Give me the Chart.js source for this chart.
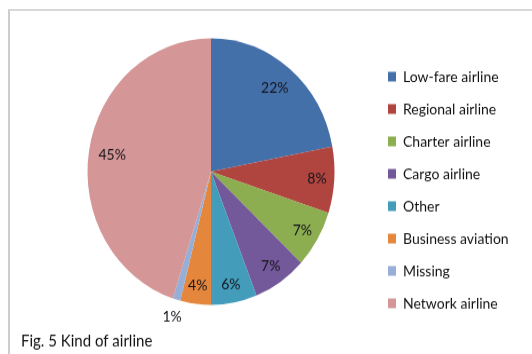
<!DOCTYPE html>
<html>
<head>
<meta charset="utf-8">
<script src="https://cdn.jsdelivr.net/npm/chart.js@4/dist/chart.umd.min.js"></script>
<style>
  html, body { margin: 0; padding: 0; background: #fff; }
  #wrap { position: relative; width: 532px; height: 354px; overflow: hidden; background: #fff; }
  #frame { position: absolute; left: 8px; top: 9px; right: -4px; bottom: -4px;
           border-top: 2px solid #d8d8d8; border-left: 2px solid #cdcdcd; }
  #c { position: absolute; left: 0; top: 0; transform-origin: 0 0; transform: scaleY(1.0793); }
</style>
</head>
<body>
<div id="wrap">
  <div id="frame"></div>
  <canvas id="c" width="532" height="328"></canvas>
</div>
<script>
// Kind of airline, share of respondents (%)
const categories = ['Low-fare airline', 'Regional airline', 'Charter airline', 'Cargo airline',
                    'Other', 'Business aviation', 'Missing', 'Network airline'];
const shares = [22, 8, 7, 7, 6, 4, 1, 45];
const caption = 'Fig. 5 Kind of airline';

const sliceColors = ['#4470AA', '#B0453F', '#8CAD50', '#73589A', '#429CBA', '#E4873C', '#97AED6', '#D49696'];
const FONT = 'Lato, Carlito, "Liberation Sans", sans-serif';

// percentage labels placed along each slice's mid-angle; tiny slices go outside
const sliceLabels = {
  id: 'sliceLabels',
  afterDatasetsDraw(chart) {
    const ctx = chart.ctx;
    const meta = chart.getDatasetMeta(0);
    const data = chart.data.datasets[0].data;
    const total = data.reduce((a, b) => a + b, 0);
    ctx.save();
    ctx.font = '14px ' + FONT;
    ctx.fillStyle = '#15151c';
    ctx.textAlign = 'center';
    ctx.textBaseline = 'middle';
    meta.data.forEach((arc, i) => {
      const p = arc.getProps(['x', 'y', 'startAngle', 'endAngle', 'outerRadius'], true);
      const mid = (p.startAngle + p.endAngle) / 2;
      const share = data[i] / total;
      const rf = share < 0.02 ? 1.13 : (share > 0.15 ? 0.81 : 0.86);
      const x = p.x + Math.cos(mid) * p.outerRadius * rf;
      const y = p.y + Math.sin(mid) * p.outerRadius * rf;
      ctx.fillText(data[i] + '%', x, y);
    });
    ctx.restore();
  }
};

// figure caption in the lower left corner
const figCaption = {
  id: 'figCaption',
  afterDraw(chart) {
    const ctx = chart.ctx;
    ctx.save();
    ctx.font = '15px ' + FONT;
    ctx.fillStyle = '#111';
    ctx.textAlign = 'left';
    ctx.textBaseline = 'middle';
    ctx.fillText(caption, 21, 316.5);
    ctx.restore();
  }
};

new Chart(document.getElementById('c'), {
  type: 'pie',
  data: {
    labels: categories,
    datasets: [{
      data: shares,
      backgroundColor: sliceColors,
      borderWidth: 0,
      radius: 123.5
    }]
  },
  options: {
    responsive: false,
    animation: false,
    layout: { padding: { left: 50, right: 15, top: 14, bottom: 24 } },
    plugins: {
      tooltip: { enabled: false },
      legend: {
        position: 'right',
        align: 'end',
        maxWidth: 145,
        labels: {
          boxWidth: 8,
          boxHeight: 9,
          padding: 16,
          color: '#111',
          font: { family: FONT, size: 14 }
        }
      }
    }
  },
  plugins: [sliceLabels, figCaption]
});
</script>
</body>
</html>
